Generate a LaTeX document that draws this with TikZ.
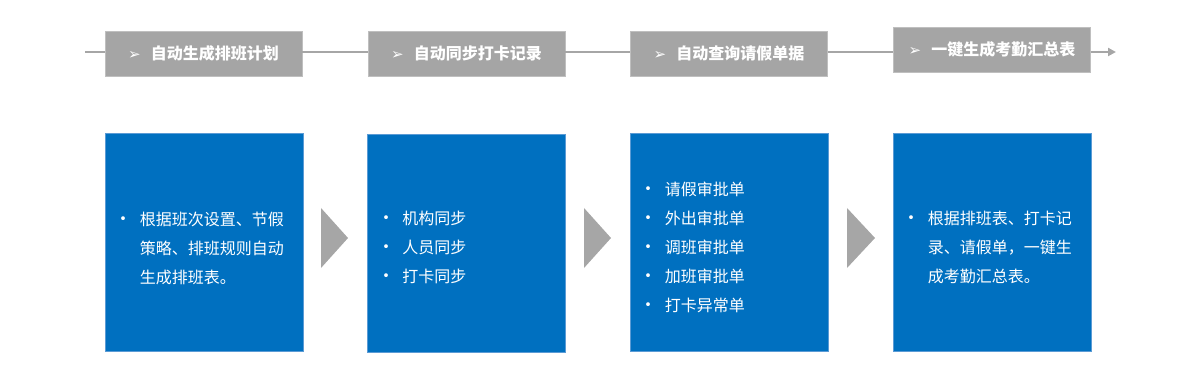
\documentclass[tikz,border=0pt]{standalone}
\usepackage{fontspec}
\setmainfont{Noto Sans CJK SC}
\newfontfamily\dejavu{DejaVu Sans}
\usetikzlibrary{arrows.meta}
\definecolor{hdrgray}{HTML}{A5A5A5}
\definecolor{hdrline}{HTML}{BFBFBF}
\definecolor{flowgray}{HTML}{A6A6A6}
\definecolor{boxblue}{HTML}{0070C0}
\definecolor{boxedge}{HTML}{5B9BD5}
\tikzset{
  hdr/.style={draw=hdrline, line width=0.8pt, fill=hdrgray, minimum width=197pt, minimum height=45pt, inner sep=0pt,
    text=white, font=\fontsize{16pt}{18pt}\selectfont\bfseries},
  bluebox/.style={draw=boxedge, line width=0.8pt, fill=boxblue, minimum width=198pt, minimum height=218pt, inner sep=0pt},
  bodytext/.style={anchor=west, align=left, inner sep=0pt, text=white, font=\fontsize{16pt}{29pt}\selectfont},
  flowline/.style={draw=flowgray, line width=2pt},
  chevron/.style={fill=flowgray, draw=none},
}
\newcommand{\hdrarrow}{{\dejavu\fontsize{15pt}{16pt}\selectfont ➢}\hspace{10pt}}
\newcommand{\bul}{\makebox[25pt][l]{\fontsize{18pt}{29pt}\selectfont •}}
\newcommand{\ind}{\hspace*{25pt}}
\begin{document}
\begin{tikzpicture}[x=1pt,y=-1pt]
\useasboundingbox (0,0) rectangle (1201,379);
% header boxes
\node[hdr] (h1) at (203.5,53.5) {\hdrarrow 自动生成排班计划};
\node[hdr] (h2) at (466.5,53.5) {\hdrarrow 自动同步打卡记录};
\node[hdr] (h3) at (729,53.5) {\hdrarrow 自动查询请假单据};
\node[hdr] (h4) at (992,49.5) {\hdrarrow 一键生成考勤汇总表};
\coordinate (lstart) at (85,52);
\coordinate (lend) at (1116,52);
\draw[flowline] (lstart) -- (lstart -| h1.west);
\draw[flowline] ([yshift=1.5pt]h1.east) -- ([yshift=1.5pt]h2.west);
\draw[flowline] ([yshift=1.5pt]h2.east) -- ([yshift=1.5pt]h3.west);
\draw[flowline] ([yshift=1.5pt]h3.east) -- ([yshift=1.5pt]h3.east -| h4.west);
\draw[flowline, -{Triangle[length=8pt,width=8pt]}] (lend -| h4.east) -- (lend);
% blue boxes
\node[bluebox] (b1) at (204,242) {};
\node[bluebox] (b2) at (466.5,243) {};
\node[bluebox] (b3) at (729,242) {};
\node[bluebox] (b4) at (992,242) {};
% texts
\node[bodytext] (t1) at ([xshift=10pt,yshift=-6pt]b1.west) {\bul 根据班次设置、节假\\ \ind 策略、排班规则自动\\ \ind 生成排班表。};
\node[bodytext] (t2) at ([xshift=10pt,yshift=-4pt]b2.west) {\bul 机构同步\\ \bul 人员同步\\ \bul 打卡同步};
\node[bodytext] (t3) at ([xshift=10pt,yshift=-5pt]b3.west) {\bul 请假审批单\\ \bul 外出审批单\\ \bul 调班审批单\\ \bul 加班审批单\\ \bul 打卡异常单};
\node[bodytext] (t4) at ([xshift=10pt,yshift=-5pt]b4.west) {\bul 根据排班表、打卡记\\ \ind 录、请假单，一键生\\ \ind 成考勤汇总表。};
% chevrons
\path[chevron] (321,208) -- (348,238) -- (321,268) -- cycle;
\path[chevron] (584,208) -- (611,238) -- (584,268) -- cycle;
\path[chevron] (847,208) -- (875,238) -- (847,268) -- cycle;
\end{tikzpicture}
\end{document}
